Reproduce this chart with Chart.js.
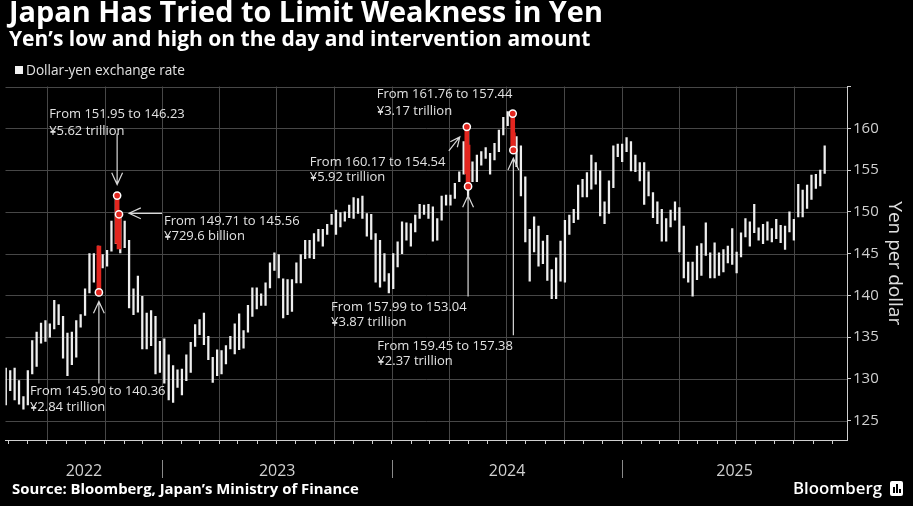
<!DOCTYPE html>
<html lang="en">
<head>
<meta charset="UTF-8">
<title>Japan Has Tried to Limit Weakness in Yen</title>
<script src="https://cdn.jsdelivr.net/npm/chart.js"></script>
<style>
  html, body { margin: 0; padding: 0; background: #000; }
  body { width: 913px; height: 506px; overflow: hidden; }
  canvas { display: block; }
</style>
</head>
<body>
<canvas id="yenChart" width="913" height="506"></canvas>
<script>
// weekly low / high of dollar-yen, first week starts Mon 25 Apr 2022
// (x values are days counted from 1 Jan 2022)
const firstWeekDay = 114;
const weeklyLow = [
  126.9,128.6,127.5,127.0,126.4,126.9,130.6,131.5,134.3,134.5,
  135.0,136.0,136.5,132.5,130.4,131.7,132.6,136.2,137.6,140.3,
  141.6,140.4,143.3,143.5,145.3,146.2,145.1,145.7,138.5,137.7,
  138.0,133.6,133.6,134.0,130.6,130.8,129.5,127.5,127.2,129.0,
  128.1,129.8,130.8,133.9,135.3,134.1,132.3,129.6,130.4,130.6,
  131.8,133.6,133.0,133.5,133.7,135.6,137.5,138.4,138.8,138.8,
  140.9,143.0,142.1,137.3,137.7,138.1,141.5,141.5,144.4,144.5,
  144.4,146.5,145.9,147.3,148.5,147.3,148.2,148.9,149.3,149.2,
  149.8,149.2,147.1,146.7,141.6,141.0,141.7,140.3,140.8,143.4,
  145.0,146.6,145.9,147.6,149.2,149.7,149.2,146.5,146.6,149.0,
  150.8,150.8,151.6,153.6,154.5,151.9,153.6,153.6,155.6,156.4,
  154.5,156.2,157.2,159.2,160.3,157.4,155.4,151.9,146.4,141.7,
  145.2,143.5,143.8,141.8,139.6,139.6,141.7,141.6,147.3,148.7,
  149.1,151.8,151.8,152.7,153.3,149.5,148.6,149.8,152.9,156.6,
  156.0,157.2,154.9,154.8,153.7,150.9,151.9,149.3,148.6,146.5,
  146.5,148.2,149.0,145.2,142.1,141.6,139.9,141.9,142.4,144.8,
  142.1,142.1,142.4,142.8,143.9,143.7,142.7,144.6,147.0,145.9,
  147.5,146.6,146.2,146.6,146.4,146.8,146.3,145.5,147.6,146.6,
  149.4,149.4,150.4,151.5,152.8,153.1,154.6
];
const weeklyHigh = [
  131.3,131.0,131.3,129.8,127.9,131.0,134.6,135.6,136.7,137.0,
  136.6,139.4,138.9,137.5,135.5,135.6,137.0,137.7,140.8,145.0,
  145.0,145.9,144.9,145.4,148.9,152.0,149.7,148.9,146.6,140.8,
  142.3,139.9,137.9,138.2,137.5,134.5,134.8,132.9,131.6,131.1,
  131.2,132.9,134.4,136.5,137.1,137.9,135.1,132.6,133.5,133.4,
  134.0,135.1,136.6,137.8,135.8,138.8,140.9,140.9,140.2,141.5,
  143.9,145.1,144.9,142.0,141.9,141.9,143.9,144.9,146.6,146.6,
  147.4,147.9,147.9,148.5,149.7,150.2,149.9,150.0,150.8,151.7,
  151.6,151.9,149.8,149.7,147.4,146.6,145.0,142.6,145.0,146.4,
  148.8,148.7,148.6,149.6,150.9,150.8,150.9,150.6,149.2,151.9,
  152.0,152.0,153.4,154.8,158.4,160.2,156.0,156.8,157.2,157.7,
  157.0,158.2,159.8,161.3,162.0,161.8,159.0,157.9,154.2,147.9,
  149.4,148.3,146.5,147.2,143.1,144.5,146.5,149.0,149.6,150.3,
  153.2,153.9,154.7,156.8,155.9,154.9,151.2,153.7,157.9,158.1,
  158.1,158.9,158.4,156.8,155.9,155.9,154.8,152.3,151.2,150.3,
  149.2,150.2,151.2,150.5,148.3,144.0,144.0,145.9,146.2,148.7,
  145.1,146.3,145.1,145.5,145.9,148.0,145.2,147.5,149.2,148.8,
  150.9,148.1,148.5,148.8,148.0,149.1,148.4,148.3,150.0,149.1,
  153.3,152.6,153.2,154.4,154.5,155.0,157.9
];

// intervention days (days from 1 Jan 2022): 22 Sep, 21 Oct, 24 Oct 2022; 29 Apr, 1 May, 11 Jul, 12 Jul 2024
const interventionDay = [264, 293, 296, 849, 851, 922, 923];
const interventionFrom = [145.90, 151.95, 149.71, 160.17, 157.99, 161.76, 159.45];
const interventionTo = [140.36, 146.23, 145.56, 154.54, 153.04, 157.44, 157.38];
const interventionAmount = ['¥2.84 trillion', '¥5.62 trillion', '¥729.6 billion', '¥5.92 trillion',
  '¥3.87 trillion', '¥3.17 trillion', '¥2.37 trillion'];
const circledEnd = ['to', 'from', 'from', 'from', 'to', 'from', 'to'];

const yearLabels = ['2022', '2023', '2024', '2025'];
const yTicks = [125, 130, 135, 140, 145, 150, 155, 160, 165];

// label / arrow placement relative to each circle, in pixels
const noteLayout = [
  { dx: -69, dy: [99, 115], arrow: [0, 91, 0, 9] },
  { dx: -68, dy: [-81, -64], arrow: [0, -62, 0, -11] },
  { dx: 45, dy: [7, 22], arrow: [43, -1, 10, -1] },
  { dx: -157, dy: [35, 50], arrow: [-18, 24, -7, 10] },
  { dx: -137, dy: [121, 136], arrow: [0, 110, 0, 9] },
  { dx: -136, dy: [-19, -2], arrow: null },
  { dx: -136, dy: [196, 211], arrow: [0, 185, 0, 8] }
];

const DAY0 = Date.UTC(2022, 0, 1);
const dayOf = (y, m, d) => (Date.UTC(y, m, d) - DAY0) / 86400000;

const X_MIN = 115.5, X_MAX = 1453.5;
const Y_MIN = 122.7, Y_MAX = 165;

const textColor = '#e2e2e2';
const gridColor = '#474747';

function fitSize(ctx, text, weight, family, width) {
  ctx.font = weight + ' 100px ' + family;
  return 100 * width / ctx.measureText(text).width;
}

function drawArrow(ctx, x1, y1, x2, y2) {
  const a = Math.atan2(y2 - y1, x2 - x1);
  const len = Math.min(13, Math.hypot(x2 - x1, y2 - y1) * 0.6);
  const spread = 0.43;
  ctx.beginPath();
  ctx.moveTo(x1, y1);
  ctx.lineTo(x2, y2);
  ctx.moveTo(x2 - len * Math.cos(a - spread), y2 - len * Math.sin(a - spread));
  ctx.lineTo(x2, y2);
  ctx.lineTo(x2 - len * Math.cos(a + spread), y2 - len * Math.sin(a + spread));
  ctx.stroke();
}

// grid behind the bars: horizontal at each y tick, vertical at each quarter start
const quarterGrid = {
  id: 'quarterGrid',
  beforeDatasetsDraw(chart) {
    const ctx = chart.ctx, a = chart.chartArea;
    const xs = chart.scales.x, ys = chart.scales.y;
    ctx.save();
    ctx.strokeStyle = gridColor;
    ctx.lineWidth = 1;
    yTicks.forEach(v => {
      const y = Math.round(ys.getPixelForValue(v)) + 0.5;
      ctx.beginPath();
      ctx.moveTo(a.left, y);
      ctx.lineTo(a.right, y);
      ctx.stroke();
    });
    for (let yr = 2022; yr <= 2025; yr++) {
      for (let m = 0; m < 12; m += 3) {
        const d = dayOf(yr, m, 1);
        if (d < X_MIN || d > X_MAX) continue;
        const x = Math.round(xs.getPixelForValue(d)) + 0.5;
        ctx.beginPath();
        ctx.moveTo(x, a.top);
        ctx.lineTo(x, a.bottom);
        ctx.stroke();
      }
    }
    ctx.restore();
  }
};

const notesPlugin = {
  id: 'interventionNotes',
  afterDatasetsDraw(chart) {
    const ctx = chart.ctx;
    const xs = chart.scales.x, ys = chart.scales.y;
    ctx.save();
    ctx.font = '13px "Open Sans"';
    ctx.fillStyle = textColor;
    ctx.strokeStyle = '#d8d8d8';
    ctx.lineWidth = 1.2;
    ctx.textBaseline = 'middle';
    interventionDay.forEach((d, i) => {
      const val = circledEnd[i] === 'from' ? interventionFrom[i] : interventionTo[i];
      const cx = xs.getPixelForValue(d), cy = ys.getPixelForValue(val);
      const L = noteLayout[i];
      ctx.fillText('From ' + interventionFrom[i].toFixed(2) + ' to ' + interventionTo[i].toFixed(2), cx + L.dx, cy + L.dy[0]);
      ctx.fillText(interventionAmount[i], cx + L.dx, cy + L.dy[1]);
      if (L.arrow) {
        drawArrow(ctx, cx + L.arrow[0], cy + L.arrow[1], cx + L.arrow[2], cy + L.arrow[3]);
      }
    });
    ctx.restore();
  },
  afterDraw(chart) {
    const ctx = chart.ctx;
    const xs = chart.scales.x;
    const area = chart.chartArea;
    ctx.save();
    ctx.textBaseline = 'alphabetic';
    ctx.textAlign = 'left';

    // titles
    const title = 'Japan Has Tried to Limit Weakness in Yen';
    ctx.fillStyle = '#fff';
    ctx.font = '700 ' + fitSize(ctx, title, 700, '"Open Sans"', 594) + 'px "Open Sans"';
    ctx.fillText(title, 9, 22);
    const sub = 'Yen’s low and high on the day and intervention amount';
    ctx.font = '700 ' + fitSize(ctx, sub, 700, '"Open Sans"', 582) + 'px "Open Sans"';
    ctx.fillText(sub, 9, 46);

    // legend
    ctx.fillStyle = '#f2f2f2';
    ctx.fillRect(15, 66, 8, 8);
    const leg = 'Dollar-yen exchange rate';
    ctx.fillStyle = textColor;
    ctx.font = fitSize(ctx, leg, 400, '"Open Sans"', 159) + 'px "Open Sans"';
    ctx.fillText(leg, 26, 75);

    // years along the bottom
    const bounds = [X_MIN, dayOf(2023, 0, 1), dayOf(2024, 0, 1), dayOf(2025, 0, 1), X_MAX];
    ctx.strokeStyle = '#8a8a8a';
    ctx.lineWidth = 1;
    for (let i = 1; i < bounds.length - 1; i++) {
      const x = Math.round(xs.getPixelForValue(bounds[i])) + 0.5;
      ctx.beginPath();
      ctx.moveTo(x, area.bottom + 20);
      ctx.lineTo(x, area.bottom + 38);
      ctx.stroke();
    }
    ctx.font = '16px "Open Sans"';
    ctx.fillStyle = '#d0d0d0';
    ctx.textAlign = 'center';
    yearLabels.forEach((y, i) => {
      const x = (xs.getPixelForValue(bounds[i]) + xs.getPixelForValue(bounds[i + 1])) / 2;
      ctx.fillText(y, x, area.bottom + 36);
    });

    // footer
    ctx.textAlign = 'left';
    const src = 'Source: Bloomberg, Japan’s Ministry of Finance';
    ctx.fillStyle = '#fff';
    ctx.font = '700 ' + fitSize(ctx, src, 700, '"Open Sans"', 347) + 'px "Open Sans"';
    ctx.fillText(src, 12, 494);
    ctx.font = '600 ' + fitSize(ctx, 'Bloomberg', 600, '"Open Sans"', 89) + 'px "Open Sans"';
    ctx.fillText('Bloomberg', 793, 494);
    // little logo mark
    ctx.beginPath();
    ctx.roundRect(890, 481, 13, 15, 2);
    ctx.fill();
    ctx.fillStyle = '#000';
    ctx.fillRect(893, 487, 2, 6);
    ctx.fillRect(896, 484, 2, 9);
    ctx.fillRect(899, 489, 2, 4);
    ctx.restore();
  }
};

const circlePoints = interventionDay.map((d, i) => ({
  x: d,
  y: circledEnd[i] === 'from' ? interventionFrom[i] : interventionTo[i]
}));

new Chart(document.getElementById('yenChart'), {
  type: 'bar',
  data: {
    datasets: [
      {
        type: 'scatter',
        label: 'Intervention',
        data: circlePoints,
        pointRadius: 3.6,
        pointBackgroundColor: '#e3261f',
        pointBorderColor: '#ffffff',
        pointBorderWidth: 1.5,
        order: 0
      },
      {
        label: 'Intervention day',
        data: interventionDay.map((d, i) => ({ x: d, y: [interventionTo[i], interventionFrom[i]] })),
        backgroundColor: '#e3261f',
        borderWidth: 0,
        barThickness: 4,
        grouped: false,
        order: 1
      },
      {
        label: 'Dollar-yen exchange rate',
        data: weeklyLow.map((lo, i) => ({ x: firstWeekDay + 7 * i + 2, y: [lo, weeklyHigh[i]] })),
        backgroundColor: '#eeeeee',
        borderWidth: 0,
        barThickness: 1.6,
        grouped: false,
        order: 2
      }
    ]
  },
  options: {
    responsive: false,
    animation: false,
    layout: { padding: { left: 5, top: 86.5, right: 0, bottom: 0 } },
    plugins: {
      legend: { display: false },
      tooltip: { enabled: false }
    },
    scales: {
      x: {
        type: 'linear',
        min: X_MIN,
        max: X_MAX,
        offset: false,
        afterBuildTicks(scale) {
          const t = [];
          for (let y = 2022; y <= 2025; y++) {
            for (let m = 0; m < 12; m++) {
              const d = dayOf(y, m, 1);
              if (d >= X_MIN && d <= X_MAX) t.push({ value: d });
            }
          }
          scale.ticks = t;
        },
        afterFit(scale) { scale.height = 66; },
        ticks: { display: false },
        grid: {
          offset: false,
          drawOnChartArea: false,
          tickColor: '#cfcfcf',
          tickLength: 4
        },
        border: { display: true, color: '#cfcfcf', width: 1 }
      },
      y: {
        position: 'right',
        min: Y_MIN,
        max: Y_MAX,
        afterBuildTicks(scale) { scale.ticks = yTicks.map(v => ({ value: v })); },
        afterFit(scale) { scale.width = 66; },
        ticks: {
          color: '#d0d0d0',
          font: { family: '"Open Sans"', size: 15 },
          padding: 2,
          callback: v => (v === 165 ? '' : v)
        },
        grid: {
          drawOnChartArea: false,
          tickColor: '#cfcfcf',
          tickLength: 4
        },
        border: { display: true, color: '#cfcfcf', width: 1 },
        title: {
          display: true,
          text: 'Yen per dollar',
          color: '#e0e0e0',
          font: { family: '"Open Sans"', size: 19 },
          padding: { top: 7.5, bottom: 0 }
        }
      }
    }
  },
  plugins: [quarterGrid, notesPlugin]
});
</script>
</body>
</html>
